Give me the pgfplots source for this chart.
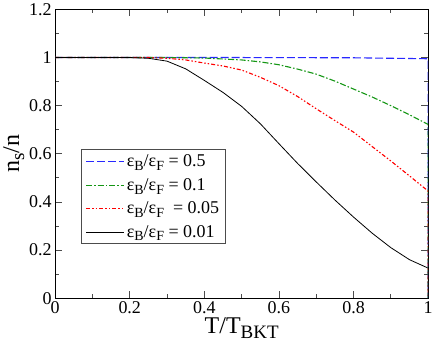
\documentclass[border=0pt]{standalone}
\usepackage{fontspec}
\setmainfont{Liberation Serif}
\usepackage{pgfplots}
\pgfplotsset{compat=1.18}
% lowered subscript in text font, size given explicitly
\newcommand{\lo}[2][14]{\raisebox{-0.45ex}{\fontsize{#1}{#1}\selectfont #2}}
\definecolor{cgreen}{RGB}{20,150,20}
\definecolor{cblue}{RGB}{40,40,255}
\begin{document}
\begin{tikzpicture}
\begin{axis}[
  scale only axis,
  width=372bp, height=288bp,
  xmin=0, xmax=1, ymin=0, ymax=1.2,
  xtick={0,0.2,0.4,0.6,0.8,1},
  ytick={0,0.2,0.4,0.6,0.8,1,1.2},
  minor tick num=1,
  tick align=inside,
  major tick length=7bp, minor tick length=4bp,
  tick style={black!70, line width=0.8pt},
  axis line style={line width=0.8pt},
  /pgf/number format/assume math mode=true,
  ticklabel style={font=\fontsize{18}{20}\selectfont},
  xlabel={T/T\lo[19]{BKT}},
  ylabel={n\lo[19]{s}/n},
  label style={font=\fontsize{24}{26}\selectfont},
  xlabel style={yshift=3bp},
  ylabel style={yshift=-2bp},
  legend style={at={(rel axis cs:0.07,0.515)}, anchor=north west,
    font=\fontsize{18}{20}\selectfont, draw=black!70, line width=0.8pt,
    row sep=6bp, inner xsep=4bp, inner ysep=3bp,
    /tikz/every even column/.append style={column sep=5bp}},
  legend cell align=left,
  legend image code/.code={\draw[mark repeat=2,mark phase=2,#1] plot coordinates {(0bp,0bp) (19bp,0bp) (38bp,0bp)};},
]
\addplot[color=cblue, line width=1.1pt, dash pattern=on 8bp off 3bp] coordinates {
(0,1) (0.5,1) (0.8,0.999) (0.9,0.997) (1,0.995) (1,0)
};
\addlegendentry{ε\lo{B}/ε\lo{F} = 0.5}
\addplot[color=cgreen, line width=1.1pt, dash pattern=on 6bp off 2bp on 1.5bp off 2bp] coordinates {
(0,1) (0.3,1) (0.4,0.998) (0.5,0.99) (0.55,0.982) (0.6,0.97) (0.65,0.952) (0.7,0.931)
(0.75,0.902) (0.8,0.869) (0.85,0.836) (0.9,0.8) (0.95,0.762) (1,0.722) (1,0)
};
\addlegendentry{ε\lo{B}/ε\lo{F} = 0.1}
\addplot[color=red, line width=1.1pt, dash pattern=on 4bp off 2bp on 1.5bp off 2bp on 1.5bp off 2bp] coordinates {
(0,1) (0.25,1) (0.3,0.997) (0.35,0.99) (0.4,0.977) (0.45,0.965) (0.5,0.948)
(0.55,0.918) (0.6,0.883) (0.65,0.838) (0.7,0.787) (0.75,0.738) (0.8,0.69)
(0.85,0.63) (0.9,0.57) (0.95,0.508) (1,0.445) (1,0)
};
\addlegendentry{ε\lo{B}/ε\lo{F} \ = 0.05}
\addplot[color=black, line width=0.8pt] coordinates {
(0,1) (0.2,1) (0.25,0.997) (0.3,0.985) (0.35,0.953) (0.4,0.905) (0.45,0.855)
(0.5,0.797) (0.55,0.725) (0.6,0.642) (0.65,0.56) (0.7,0.483) (0.75,0.408)
(0.8,0.337) (0.85,0.27) (0.9,0.21) (0.95,0.16) (1,0.125) (1,0)
};
\addlegendentry{ε\lo{B}/ε\lo{F} = 0.01}
\end{axis}
\end{tikzpicture}
\end{document}
